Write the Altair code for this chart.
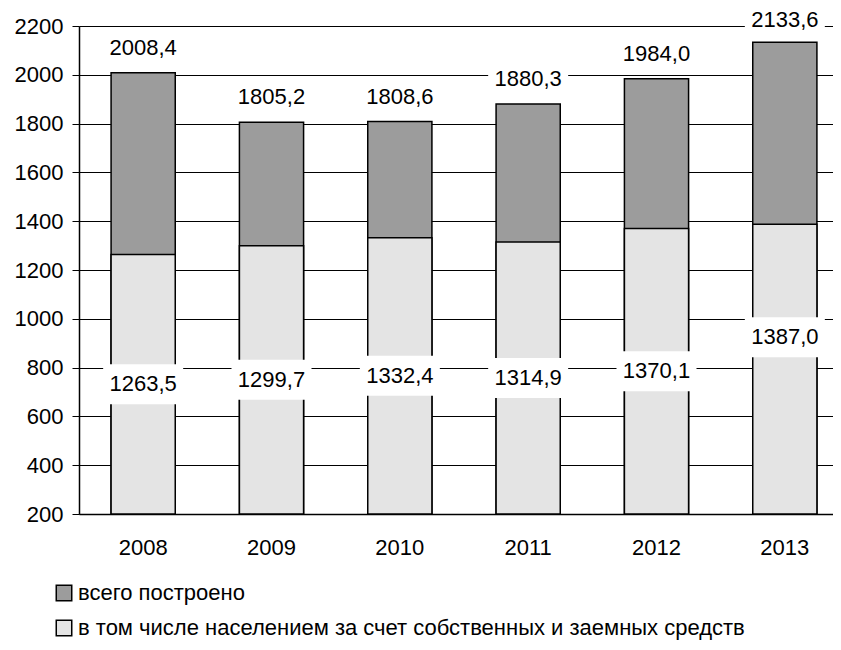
import altair as alt
import pandas as pd

years = ["2008", "2009", "2010", "2011", "2012", "2013"]
total_built = [2008.4, 1805.2, 1808.6, 1880.3, 1984.0, 2133.6]
by_population = [1263.5, 1299.7, 1332.4, 1314.9, 1370.1, 1387.0]
series_names = [
    "всего построено",
    "в том числе населением за счет собственных и заемных средств",
]
y_ticks = [200, 400, 600, 800, 1000, 1200, 1400, 1600, 1800, 2000, 2200]

FONT = "Liberation Sans"
BASE = 200

df = pd.DataFrame({"year": years, "total": total_built, "pop": by_population})
df["total_label"] = [f"{v:.1f}".replace(".", ",") for v in total_built]
df["pop_label"] = [f"{v:.1f}".replace(".", ",") for v in by_population]
df["s_total"] = series_names[0]
df["s_pop"] = series_names[1]

x_enc = alt.X(
    "year:N",
    sort=years,
    scale=alt.Scale(range=[0, 770], paddingInner=0.5, paddingOuter=0.25),
    axis=alt.Axis(
        title=None, labelAngle=0, ticks=False, labelFontSize=22, labelFont=FONT,
        labelPadding=23, labelColor="black", domainColor="black", domainWidth=1.5,
        grid=False,
    ),
)
y_scale = alt.Scale(domain=[200, 2200], nice=False, zero=False)
y_axis = alt.Axis(
    title=None, values=y_ticks, grid=True, gridColor="black", gridWidth=1,
    tickSize=7, tickColor="black", tickWidth=1, domainColor="black", domainWidth=1.5,
    labelFontSize=22, labelFont=FONT, labelColor="black", labelPadding=9, format="d",
)
color_scale = alt.Scale(domain=series_names, range=["#9c9c9c", "#e4e4e4"])

base = alt.Chart(df)

bars_total = base.mark_bar(stroke="black", strokeWidth=1.5).encode(
    x=x_enc,
    y=alt.Y("total:Q", scale=y_scale, axis=y_axis),
    y2=alt.datum(BASE),
    color=alt.Color(
        "s_total:N", scale=color_scale,
        legend=alt.Legend(
            title=None, orient="none", legendX=-26, legendY=556, direction="vertical",
            symbolType="square", symbolSize=240, symbolStrokeColor="black",
            symbolStrokeWidth=1.5, labelFontSize=22, labelFont=FONT, labelColor="black",
            labelLimit=0, rowPadding=13, labelOffset=3,
        ),
    ),
)
bars_pop = base.mark_bar(stroke="black", strokeWidth=1.5).encode(
    x=x_enc,
    y=alt.Y("pop:Q", scale=y_scale, axis=y_axis),
    y2=alt.datum(BASE),
    color=alt.Color("s_pop:N", scale=color_scale, legend=None),
)

box_shape = "M-1,-0.5L1,-0.5L1,0.5L-1,0.5Z"
top_shift = alt.expr("datum.year == '2013' ? -22 : -25")
low_shift = alt.expr("datum.year == '2013' ? -32 : 0")

boxes_total = base.mark_point(
    shape=box_shape, size=6400, filled=True, fill="white", opacity=1,
    strokeWidth=0, yOffset=top_shift,
).encode(x=x_enc, y=alt.Y("total:Q", scale=y_scale))

pop_mid = base.transform_calculate(mid=f"({BASE} + datum.pop) / 2")

boxes_pop = pop_mid.mark_point(
    shape=box_shape, size=6400, filled=True, fill="white", opacity=1,
    strokeWidth=0, yOffset=low_shift,
).encode(x=x_enc, y=alt.Y("mid:Q", scale=y_scale))

text_total = base.mark_text(
    baseline="middle", align="center", fontSize=22, font=FONT, color="black",
    yOffset=top_shift,
).encode(x=x_enc, y=alt.Y("total:Q", scale=y_scale), text="total_label:N")

text_pop = pop_mid.mark_text(
    baseline="middle", align="center", fontSize=22, font=FONT, color="black",
    yOffset=low_shift,
).encode(x=x_enc, y=alt.Y("mid:Q", scale=y_scale), text="pop_label:N")

chart = (
    alt.layer(bars_total, bars_pop, boxes_total, boxes_pop, text_total, text_pop)
    .properties(
        width=754, height=488,
        autosize=alt.AutoSizeParams(type="none"),
        padding={"left": 71, "top": 18, "right": 0, "bottom": 128},
    )
    .configure_view(stroke=None)
    .configure(background="white")
)

chart.save("out.html", embed_options={"renderer": "svg", "actions": False})
